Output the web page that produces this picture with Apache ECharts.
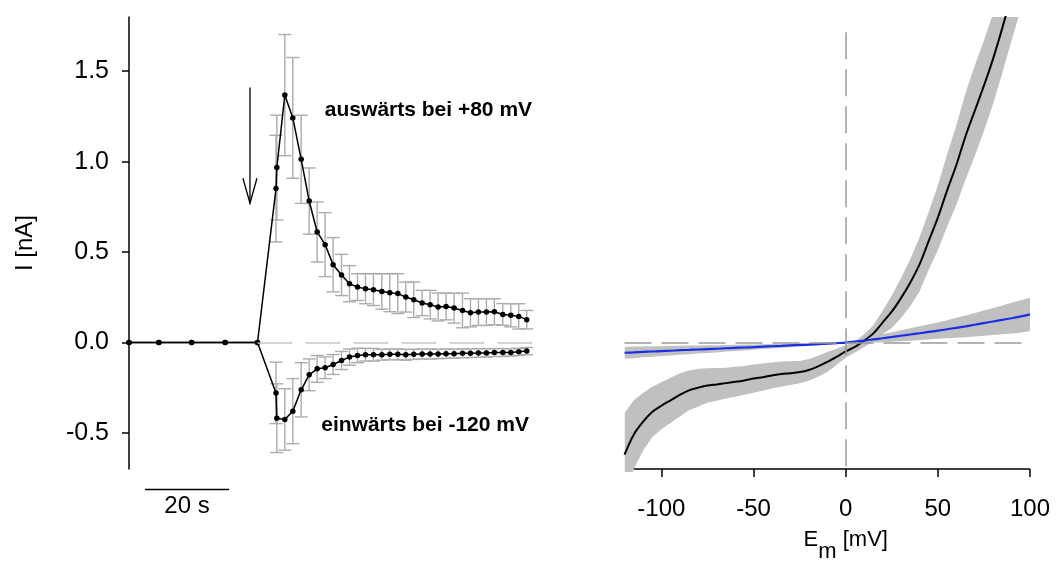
<!DOCTYPE html>
<html><head><meta charset="utf-8">
<script src="https://cdn.jsdelivr.net/npm/echarts@6/dist/echarts.min.js"></script>
<style>html,body{margin:0;padding:0;background:#fff}#c{width:1056px;height:563px}</style>
</head><body><div id="c"></div>
<script>
// ---------- left panel: time course ----------
const timeS = [0,7.1,14.9,22.9,30.6,35.0,35.2,37.1,39.0,41.0,42.9,44.8,46.7,48.6,50.6,52.5,54.4,56.3,58.2,60.2,62.1,64.0,65.9,67.8,69.8,71.7,73.6,75.5,77.4,79.4,81.3,83.2,85.1,87.0,89.0,90.9,92.8,94.7];
const outward = [0,0,0,0,0,0.851,0.967,1.368,1.242,1.013,0.782,0.611,0.541,0.43,0.373,0.325,0.306,0.297,0.292,0.282,0.275,0.27,0.251,0.236,0.218,0.209,0.196,0.199,0.19,0.177,0.164,0.168,0.168,0.17,0.155,0.15,0.144,0.126];
const outwardErr = [0,0,0,0,0,0.295,0.29,0.335,0.334,0.244,0.183,0.166,0.177,0.15,0.114,0.1,0.074,0.083,0.088,0.098,0.105,0.11,0.083,0.098,0.07,0.079,0.077,0.074,0.083,0.096,0.078,0.074,0.074,0.072,0.06,0.064,0.07,0.051];
const inward = [0,0,0,0,0,-0.279,-0.419,-0.426,-0.38,-0.262,-0.179,-0.146,-0.14,-0.122,-0.1,-0.081,-0.072,-0.068,-0.068,-0.068,-0.066,-0.066,-0.068,-0.066,-0.064,-0.064,-0.064,-0.062,-0.062,-0.06,-0.06,-0.058,-0.058,-0.056,-0.056,-0.055,-0.052,-0.048];
const inwardErr = [0,0,0,0,0,0.17,0.19,0.17,0.18,0.15,0.088,0.074,0.06,0.055,0.05,0.045,0.04,0.035,0.035,0.03,0.03,0.03,0.03,0.028,0.028,0.028,0.026,0.026,0.025,0.025,0.024,0.024,0.023,0.022,0.022,0.02,0.02,0.02];
const yTicks = [-0.5,0,0.5,1.0,1.5];
const annoLabels = ['auswärts bei +80 mV','einwärts bei -120 mV'];
const scaleBarLabel = '20 s';

// ---------- right panel: I-V curves ----------
const mV = [-120,-115,-110,-105,-100,-95,-90,-85,-80,-75,-70,-65,-60,-55,-50,-45,-40,-35,-30,-25,-20,-15,-10,-5,0,5,10,15,20,25,30,35,40,45,50,55,60,65,70,75,80,85,90,95,100];
const ivBlack = [-0.62,-0.51,-0.44,-0.385,-0.35,-0.32,-0.29,-0.265,-0.25,-0.238,-0.232,-0.225,-0.218,-0.21,-0.2,-0.192,-0.183,-0.175,-0.17,-0.164,-0.152,-0.132,-0.108,-0.08,-0.05,-0.025,0.01,0.05,0.11,0.17,0.245,0.33,0.43,0.56,0.69,0.84,0.98,1.14,1.28,1.42,1.57,1.74,1.92,2.1,2.3];
const ivBlackSem = [0.23,0.19,0.16,0.14,0.13,0.125,0.12,0.11,0.105,0.095,0.09,0.085,0.083,0.08,0.078,0.075,0.072,0.07,0.066,0.062,0.06,0.058,0.055,0.045,0.035,0.03,0.035,0.045,0.065,0.09,0.11,0.13,0.15,0.16,0.18,0.2,0.22,0.24,0.25,0.25,0.25,0.25,0.25,0.26,0.27];
const ivBlue = [-0.057,-0.055,-0.052,-0.05,-0.048,-0.046,-0.043,-0.041,-0.039,-0.037,-0.035,-0.032,-0.03,-0.028,-0.026,-0.023,-0.021,-0.019,-0.016,-0.014,-0.012,-0.009,-0.007,-0.004,-0.001,0.004,0.01,0.017,0.023,0.03,0.037,0.044,0.051,0.058,0.065,0.073,0.081,0.089,0.098,0.107,0.116,0.125,0.134,0.144,0.155];
const ivBlueSem = [0.033,0.032,0.03,0.029,0.027,0.026,0.025,0.024,0.022,0.021,0.02,0.018,0.017,0.016,0.015,0.013,0.012,0.011,0.01,0.008,0.007,0.006,0.005,0.004,0.003,0.008,0.012,0.018,0.022,0.026,0.03,0.034,0.038,0.042,0.045,0.05,0.055,0.06,0.065,0.07,0.075,0.08,0.085,0.09,0.092];
const xTicks = [-100,-50,0,50,100];

// ---------- annotation anchors (data coordinates) ----------
const ANNO_POS = [[71.3,1.285],[70.5,-0.46]];
const ARROW = {t:28.8, from:1.41, to:0.77};
const SCALE = {t0:3.8, t1:23.8, y:-0.814};
const Y_MIN = -0.7, Y_MAX = 1.8;

const FONT = "'Liberation Sans', Arial, Helvetica, sans-serif";
const chart = echarts.init(document.getElementById('c'), null, {renderer:'canvas'});

const pairs = (xs, ys) => xs.map((x,i)=>[x, ys[i]]);
const errData = (vals, errs) => timeS.map((t,i)=>[t, vals[i], errs[i]]);
function errorBarRender(params, api){
  const t=api.value(0), v=api.value(1), e=api.value(2);
  if(!(e>0)) return null;
  const top=api.coord([t,v+e]), bot=api.coord([t,v-e]);
  const w=6.5;
  const st={stroke:'#acacac', lineWidth:1.4};
  return {type:'group', children:[
    {type:'line', shape:{x1:top[0],y1:top[1],x2:bot[0],y2:bot[1]}, style:st},
    {type:'line', shape:{x1:top[0]-w,y1:top[1],x2:top[0]+w,y2:top[1]}, style:st},
    {type:'line', shape:{x1:bot[0]-w,y1:bot[1],x2:bot[0]+w,y2:bot[1]}, style:st}
  ]};
}
// shaded mean ± SEM band, drawn as one polygon through the axis scales
function bandRender(mean, sem){
  return function(params, api){
    if(params.dataIndex !== 0) return null;
    const up = mV.map((x,i)=>api.coord([x, mean[i]+sem[i]]));
    const lo = mV.map((x,i)=>api.coord([x, mean[i]-sem[i]])).reverse();
    const cs = params.coordSys;
    return {type:'polygon', shape:{points:up.concat(lo)}, style:{fill:'#c0c0c0', stroke:null},
      clipPath:{type:'rect', shape:{x:cs.x, y:cs.y, width:cs.width, height:cs.height+3}}};
  };
}

const option = {
  animation:false,
  textStyle:{fontFamily:FONT, color:'#000'},
  grid:[
    {left:129, top:17, width:420, height:452, outerBoundsMode:'none', containLabel:false},
    {left:624.5, top:17, width:405.5, height:452, outerBoundsMode:'none', containLabel:false}
  ],
  xAxis:[
    {gridIndex:0, type:'value', min:0, max:100, show:false},
    {gridIndex:1, type:'value', min:-120, max:100,
     axisLine:{show:false, onZero:false},
     axisTick:{show:true, customValues:xTicks, length:8, lineStyle:{color:'#000', width:1.5}},
     axisLabel:{customValues:xTicks, fontSize:24, color:'#000', fontFamily:FONT, margin:28},
     splitLine:{show:false},
     name:'{a|E}{s|m}{a| [mV]}', nameLocation:'middle', nameGap:60,
     nameTextStyle:{padding:[0,0,0,37], rich:{
       a:{fontSize:22, fontFamily:FONT, color:'#000', lineHeight:26, verticalAlign:'top'},
       s:{fontSize:22, fontFamily:FONT, color:'#000', lineHeight:26, verticalAlign:'top', padding:[12,0,0,0]}
     }}}
  ],
  yAxis:[
    {gridIndex:0, type:'value', min:Y_MIN, max:Y_MAX,
     axisLine:{show:true, onZero:false, lineStyle:{color:'#000', width:1.5}},
     axisTick:{show:true, customValues:yTicks, length:7, lineStyle:{color:'#000', width:1.5}},
     axisLabel:{customValues:yTicks, formatter:v=>v.toFixed(1), fontSize:25, color:'#000', fontFamily:FONT, margin:20},
     splitLine:{show:false},
     name:'I [nA]', nameLocation:'middle', nameGap:92,
     nameTextStyle:{fontSize:24, fontFamily:FONT, color:'#000'}},
    {gridIndex:1, type:'value', min:Y_MIN, max:Y_MAX, show:false}
  ],
  series:[
    // error bars
    {type:'custom', xAxisIndex:0, yAxisIndex:0, renderItem:errorBarRender, data:errData(outward,outwardErr), encode:{x:0,y:1}, z:1, silent:true},
    {type:'custom', xAxisIndex:0, yAxisIndex:0, renderItem:errorBarRender, data:errData(inward,inwardErr), encode:{x:0,y:1}, z:1, silent:true},
    // mean traces
    {type:'line', xAxisIndex:0, yAxisIndex:0, data:pairs(timeS,outward), z:3,
     symbol:'circle', symbolSize:5.5, showAllSymbol:true, itemStyle:{color:'#000'}, lineStyle:{color:'#000', width:1.5},
     markLine:{silent:true, symbol:'none', label:{show:false},
       lineStyle:{color:'#c6c6c6', width:1.5, type:[35,13]},
       data:[[{coord:[timeS[4],0]},{coord:[96.5,0]}]]}},
    {type:'line', xAxisIndex:0, yAxisIndex:0, data:pairs(timeS,inward), z:3,
     symbol:'circle', symbolSize:5.5, showAllSymbol:true, itemStyle:{color:'#000'}, lineStyle:{color:'#000', width:1.5}},
    // scale bar
    {type:'line', xAxisIndex:0, yAxisIndex:0, clip:false, data:[[SCALE.t0,SCALE.y],[SCALE.t1,SCALE.y]],
     symbol:'none', lineStyle:{color:'#000', width:1.5}, silent:true},
    {type:'scatter', xAxisIndex:0, yAxisIndex:0, clip:false, symbolSize:0, silent:true, itemStyle:{opacity:1},
     data:[[(SCALE.t0+SCALE.t1)/2, SCALE.y, scaleBarLabel]],
     label:{show:true, formatter:p=>p.data[2], position:[0,0], offset:[0,17], align:'center', verticalAlign:'middle', fontSize:24, fontFamily:FONT, color:'#000', opacity:1}},
    // annotations
    {type:'scatter', xAxisIndex:0, yAxisIndex:0, symbolSize:0, silent:true, itemStyle:{opacity:1},
     data:ANNO_POS.map((p,i)=>[p[0],p[1],annoLabels[i]]),
     label:{show:true, formatter:p=>p.data[2], position:[0,0], align:'center', verticalAlign:'middle', fontSize:21, fontWeight:'bold', fontFamily:FONT, color:'#000', opacity:1}},
    // right: bands
    {type:'custom', xAxisIndex:1, yAxisIndex:1, renderItem:bandRender(ivBlack,ivBlackSem), data:pairs(mV,ivBlack), encode:{x:0,y:1}, z:1, silent:true},
    {type:'custom', xAxisIndex:1, yAxisIndex:1, renderItem:bandRender(ivBlue,ivBlueSem), data:pairs(mV,ivBlue), encode:{x:0,y:1}, z:1, silent:true},
    // right: dashed zero lines
    {type:'line', xAxisIndex:1, yAxisIndex:1, data:[[0,0]], symbol:'none', lineStyle:{opacity:0}, z:2, silent:true,
     markLine:{silent:true, symbol:'none', label:{show:false},
       lineStyle:{color:'#9a9a9a', width:1.5, type:[27,10]},
       data:[[{coord:[0,1.716]},{coord:[0,Y_MIN]}],[{coord:[-120,0]},{coord:[100,0]}]]}},
    // right: x axis line
    {type:'line', xAxisIndex:1, yAxisIndex:1, clip:false, data:[[-115,Y_MIN],[100,Y_MIN]],
     symbol:'none', lineStyle:{color:'#000', width:1.5}, z:4, silent:true},
    // right: mean curves
    {type:'line', xAxisIndex:1, yAxisIndex:1, data:pairs(mV,ivBlack), symbol:'none', smooth:0.3,
     lineStyle:{color:'#000', width:2}, z:3, silent:true},
    {type:'line', xAxisIndex:1, yAxisIndex:1, data:pairs(mV,ivBlue), symbol:'none', smooth:0.3,
     lineStyle:{color:'#1a2ee6', width:2.2}, z:3, silent:true}
  ]
};
chart.setOption(option);

// arrow annotation (open arrowhead), positioned through the left grid's scales
const pTop = chart.convertToPixel({gridIndex:0}, [ARROW.t, ARROW.from]);
const pTip = chart.convertToPixel({gridIndex:0}, [ARROW.t, ARROW.to]);
const headLen = 25, headHalf = 7;
chart.setOption({graphic:[
  {type:'line', shape:{x1:pTop[0],y1:pTop[1],x2:pTip[0],y2:pTip[1]}, style:{stroke:'#000', lineWidth:1.3}, z:10},
  {type:'polyline', shape:{points:[[pTip[0]-headHalf,pTip[1]-headLen],[pTip[0],pTip[1]],[pTip[0]+headHalf,pTip[1]-headLen]]}, style:{stroke:'#000', lineWidth:1.3, fill:null}, z:10}
]});
</script>
</body></html>
